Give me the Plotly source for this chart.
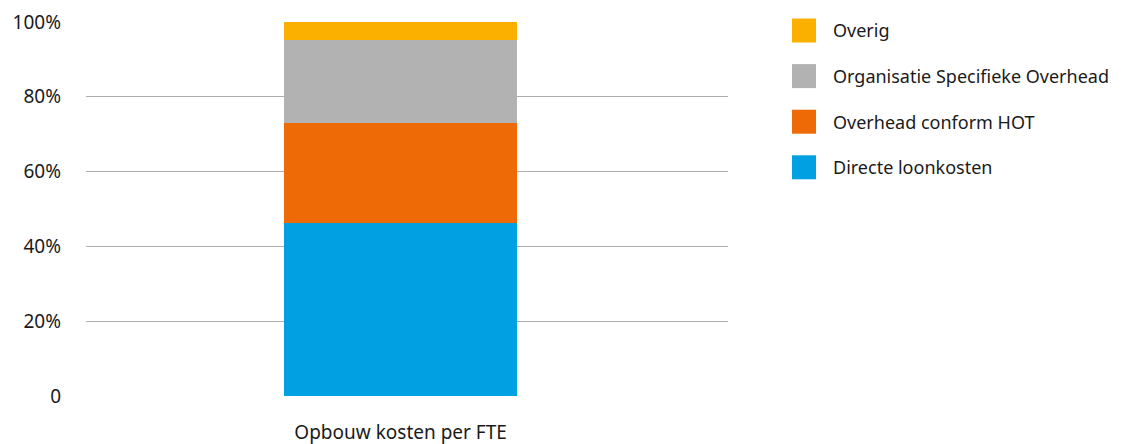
import plotly.graph_objects as go

categories = ["Opbouw kosten per FTE"]
series_names = ["Directe loonkosten", "Overhead conform HOT", "Organisatie Specifieke Overhead", "Overig"]
directe = [46.2]
hot = [26.8]
organisatie = [22.3]
overig = [4.7]
colors = ["#00A0E2", "#EE6A06", "#B2B2B2", "#FBB000"]
ytick_vals = [0, 20, 40, 60, 80, 100]
ytick_text = ["0", "20%", "40%", "60%", "80%", "100%"]

W, H = 1128, 444
L, R, T, B = 86, 400, 22, 48
pw, ph = W - L - R, H - T - B

fig = go.Figure()
for name, vals, col in zip(series_names, [directe, hot, organisatie, overig], colors):
    fig.add_trace(go.Bar(x=categories, y=vals, name=name, marker=dict(color=col, line=dict(width=0)),
                         width=0.363, showlegend=False))

def px_x(p):
    return (p - L) / pw

def px_y(p):
    return (H - B - p) / ph

# custom legend (top to bottom: Overig, Organisatie, HOT, Directe)
legend_order = list(zip(series_names, colors))[::-1]
shapes = []
annotations = []
for i, (name, col) in enumerate(legend_order):
    yc = 30.5 + i * 45.6
    shapes.append(dict(type="rect", xref="paper", yref="paper",
                       x0=px_x(792), x1=px_x(816), y0=px_y(yc + 12), y1=px_y(yc - 12),
                       fillcolor=col, line=dict(width=0)))
    annotations.append(dict(xref="paper", yref="paper", x=px_x(831), y=px_y(yc),
                            text=name, showarrow=False, xanchor="left", yanchor="middle",
                            font=dict(size=18, color="#1a1a1a")))

fig.update_layout(
    barmode="stack",
    width=W, height=H,
    margin=dict(l=L, r=R, t=T, b=B, autoexpand=False),
    paper_bgcolor="white", plot_bgcolor="white",
    font=dict(family="Noto Sans", size=18, color="#1a1a1a"),
    shapes=shapes, annotations=annotations,
    xaxis=dict(range=[-0.49, 0.51], showgrid=False, zeroline=False, showline=False,
               ticks="", ticklabelstandoff=23, tickfont=dict(size=19)),
    yaxis=dict(range=[0, 100], tickvals=ytick_vals, ticktext=ytick_text,
               showgrid=True, gridcolor="#AEAEAE", gridwidth=1.3, zeroline=False, showline=False,
               ticks="", ticklabelstandoff=24, tickfont=dict(size=19)),
)

fig.write_html("out.html", config={"displayModeBar": False},
               post_script="document.body.style.margin='0';")
